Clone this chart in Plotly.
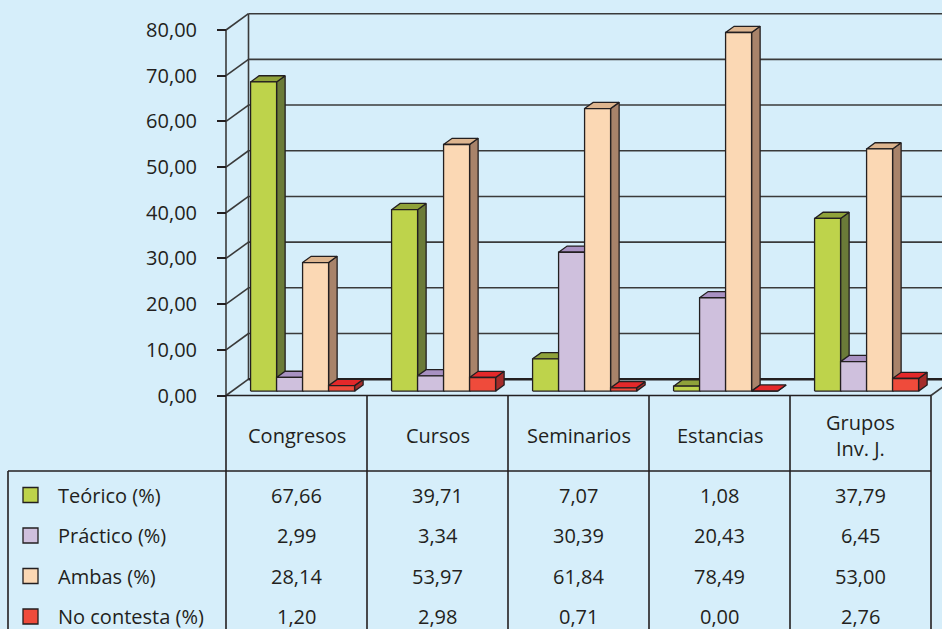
import plotly.graph_objects as go

# ---------------- data ----------------
categories = ["Congresos", "Cursos", "Seminarios", "Estancias", "Grupos<br>Inv. J."]
series_names = ["Teórico (%)", "Práctico (%)", "Ambas (%)", "No contesta (%)"]
teorico = [67.66, 39.71, 7.07, 1.08, 37.79]
practico = [2.99, 3.34, 30.39, 20.43, 6.45]
ambas = [28.14, 53.97, 61.84, 78.49, 53.00]
no_contesta = [1.20, 2.98, 0.71, 0.00, 2.76]
y_ticks = [0, 10, 20, 30, 40, 50, 60, 70, 80]

series_values = [teorico, practico, ambas, no_contesta]

# ---------------- styling ----------------
BG = "#D6EEFA"
INK = "#231F20"
GRID = "#3A3A3A"
FONT = "Open Sans"
FS = 20
front_colors = ["#BED34B", "#CFC0DD", "#FBD8B4", "#EF4B3B"]
side_colors = ["#6B7B38", "#7E6A94", "#A8836A", "#A52C2A"]
top_colors = ["#8FA23A", "#A891C2", "#DDB58F", "#E4282A"]

# ---------------- geometry ----------------
W, H = 942, 629
COL0_PX = 296.5      # pixel x of first category centre (front plane)
COL_PX = 141.0       # pixels per category
Y0_PX = 395.5        # pixel y of value 0 (front plane)
UNIT_PX = 4.569      # pixels per value unit
DEPTH_PX = (22.5, 16.3)

x_range = [(0 - COL0_PX) / COL_PX, (W - COL0_PX) / COL_PX]
y_range = [(Y0_PX - H) / UNIT_PX, Y0_PX / UNIT_PX]
DX = DEPTH_PX[0] / COL_PX
DY = DEPTH_PX[1] / UNIT_PX

BAR_W = 26.0 / COL_PX
D0, D1 = 0.27, 0.65
n_cat = len(categories)
X_LEFT, X_RIGHT = -0.5, n_cat - 0.5
Y_MAX = y_ticks[-1]


def proj(x, v, d):
    return x + DX * d, v + DY * d


def poly(points):
    xs, ys = [], []
    for (x, v, d) in points:
        px, py = proj(x, v, d)
        xs.append(px)
        ys.append(py)
    xs.append(xs[0])
    ys.append(ys[0])
    return xs, ys


fig = go.Figure()

# ---------------- walls / grid ----------------
gx, gy = [], []


def seg(p1, p2):
    a = proj(*p1)
    b = proj(*p2)
    gx.extend([a[0], b[0], None])
    gy.extend([a[1], b[1], None])


for v in y_ticks:
    seg((X_LEFT, v, 1), (X_RIGHT, v, 1))   # back wall grid line
    seg((X_LEFT, v, 0), (X_LEFT, v, 1))    # side wall diagonal
seg((X_LEFT, 0, 1), (X_LEFT, Y_MAX, 1))    # back corner
seg((X_LEFT, 0, 0), (X_LEFT, Y_MAX, 0))    # front axis line
seg((X_RIGHT, 0, 0), (X_RIGHT, 0, 1))      # floor right edge

fig.add_trace(go.Scatter(x=gx, y=gy, mode="lines",
                         line=dict(color=GRID, width=1.6),
                         hoverinfo="skip", showlegend=False))
a = proj(X_LEFT, 0, 1)
b = proj(X_RIGHT, 0, 1)
fig.add_trace(go.Scatter(x=[a[0], b[0]], y=[a[1], b[1]], mode="lines",
                         line=dict(color=INK, width=2.4),
                         hoverinfo="skip", showlegend=False))

# ---------------- 3D bars ----------------
for j, vals in enumerate(series_values):
    faces = {"side": ([], []), "top": ([], []), "front": ([], [])}
    for i, val in enumerate(vals):
        xl = i - 2 * BAR_W + j * BAR_W
        xr = xl + BAR_W
        pts_by_face = {
            "side": [(xr, 0, D0), (xr, 0, D1), (xr, val, D1), (xr, val, D0)],
            "top": [(xl, val, D0), (xr, val, D0), (xr, val, D1), (xl, val, D1)],
            "front": [(xl, 0, D0), (xr, 0, D0), (xr, val, D0), (xl, val, D0)],
        }
        for k, pts in pts_by_face.items():
            xs, ys = poly(pts)
            faces[k][0].extend(xs + [None])
            faces[k][1].extend(ys + [None])
    for k, col in (("side", side_colors[j]), ("top", top_colors[j]), ("front", front_colors[j])):
        fig.add_trace(go.Scatter(x=faces[k][0], y=faces[k][1], mode="lines",
                                 fill="toself", fillcolor=col,
                                 line=dict(color=INK, width=1.3),
                                 name=series_names[j], hoverinfo="skip",
                                 showlegend=False))

# ---------------- data table ----------------
TABLE_LEFT = 8 / W
HEADER_TOP = 1 - Y0_PX / H
HEADER_BOTTOM = 1 - 471 / H
header_mid = 1 - 435 / H
row_mid = [1 - y / H for y in (495, 535.5, 576, 616.5)]

line_style = dict(color=INK, width=1.6)
shapes = []
shapes.append(dict(type="line", xref="paper", yref="paper",
                   x0=TABLE_LEFT, x1=(COL0_PX + COL_PX * X_RIGHT) / W,
                   y0=HEADER_BOTTOM, y1=HEADER_BOTTOM, line=line_style))
shapes.append(dict(type="line", xref="paper", yref="paper",
                   x0=TABLE_LEFT, x1=TABLE_LEFT, y0=HEADER_BOTTOM, y1=-0.05,
                   line=line_style))
for i in range(n_cat + 1):
    xb = i - 0.5
    shapes.append(dict(type="line", xref="x", yref="paper",
                       x0=xb, x1=xb, y0=HEADER_TOP, y1=-0.05, line=line_style))
shapes.append(dict(type="line", xref="x", yref="paper",
                   x0=X_LEFT, x1=X_RIGHT, y0=HEADER_TOP, y1=HEADER_TOP,
                   line=line_style))
for j in range(len(series_names)):
    cy = row_mid[j]
    shapes.append(dict(type="rect", xref="paper", yref="paper",
                       x0=23 / W, x1=38 / W, y0=cy - 7.5 / H, y1=cy + 7.5 / H,
                       fillcolor=front_colors[j], line=dict(color=INK, width=1.3)))

annotations = []
for i, cat in enumerate(categories):
    annotations.append(dict(x=i, y=header_mid, xref="x", yref="paper",
                            text=cat, showarrow=False, xanchor="center",
                            yanchor="middle",
                            font=dict(family=FONT, size=FS, color=INK)))
for j, name in enumerate(series_names):
    annotations.append(dict(x=56 / W, y=row_mid[j], xref="paper", yref="paper",
                            text=name, showarrow=False, xanchor="left",
                            yanchor="middle",
                            font=dict(family=FONT, size=FS, color=INK)))
    for i, val in enumerate(series_values[j]):
        annotations.append(dict(x=i, y=row_mid[j], xref="x", yref="paper",
                                text=f"{val:.2f}".replace(".", ","),
                                showarrow=False, xanchor="center",
                                yanchor="middle",
                                font=dict(family=FONT, size=FS, color=INK)))

fig.update_layout(
    width=W, height=H,
    margin=dict(l=0, r=0, t=0, b=0),
    paper_bgcolor=BG, plot_bgcolor=BG,
    separators=",.",
    showlegend=False,
    xaxis=dict(range=x_range, visible=False, fixedrange=True),
    yaxis=dict(range=y_range, anchor="free", position=(COL0_PX - 0.5 * COL_PX) / W,
               tickvals=y_ticks, tickformat=".2f", ticks="outside", ticklen=9,
               tickwidth=1.6, tickcolor=INK, showline=False, showgrid=False,
               zeroline=False, ticklabelstandoff=16,
               tickfont=dict(family=FONT, size=FS, color=INK), fixedrange=True),
    shapes=shapes,
    annotations=annotations,
)

fig.write_html("out.html", config={"displayModeBar": False},
               post_script="document.body.style.margin='0';document.body.style.background='" + BG + "';")
